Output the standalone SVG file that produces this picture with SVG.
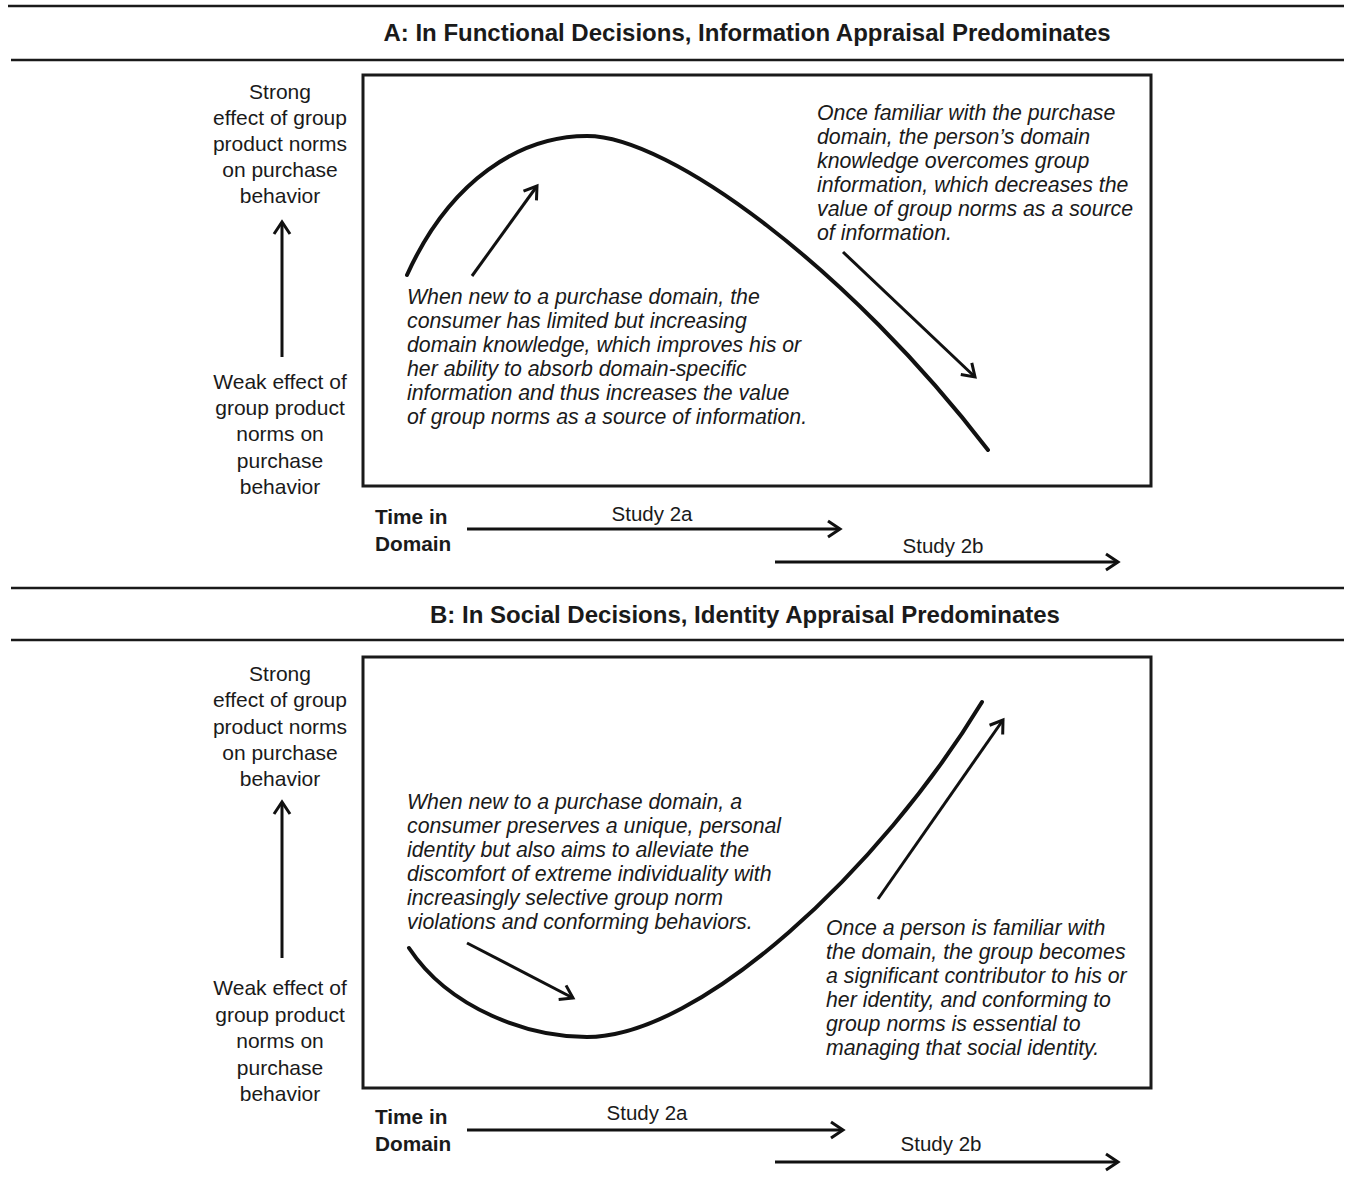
<svg xmlns="http://www.w3.org/2000/svg" width="1347" height="1191" viewBox="0 0 1347 1191">
<style>
text{font-family:"Liberation Sans",Arial,sans-serif;fill:#1a1a1a}
.title{font-size:24px;font-weight:bold;text-anchor:middle}
.ax{font-size:21px;text-anchor:middle}
.note{font-size:21.3px;font-style:italic}
.tid{font-size:20.8px;font-weight:bold}
.st{font-size:20.5px;text-anchor:middle}
.rule{stroke:#1a1a1a;stroke-width:2.5;fill:none}
.box{stroke:#1a1a1a;stroke-width:3;fill:none}
.curve{stroke:#111;stroke-width:4;fill:none;stroke-linecap:round}
.arr{stroke:#111;stroke-width:3;fill:none;marker-end:url(#ah)}
</style>
<defs>
<marker id="ah" markerUnits="userSpaceOnUse" viewBox="0 0 20 20" refX="16" refY="10" markerWidth="20" markerHeight="20" orient="auto">
<path d="M4,2 L16,10 L4,18" fill="none" stroke="#111" stroke-width="3"/>
</marker>
</defs>
<g id="rules">
<line class="rule" x1="8" y1="6" x2="1344" y2="6" stroke-width="3.5"/>
<line class="rule" x1="11" y1="60" x2="1344" y2="60"/>
<line class="rule" x1="11" y1="588" x2="1344" y2="588"/>
<line class="rule" x1="11" y1="640" x2="1344" y2="640"/>
</g>
<g id="panelA">
<text class="title" x="747" y="41">A: In Functional Decisions, Information Appraisal Predominates</text>
<rect id="boxA" class="box" x="363" y="75" width="788" height="411"/>
<g id="yaxisA">
<text class="ax" x="280" y="99">Strong</text>
<text class="ax" x="280" y="125">effect of group</text>
<text class="ax" x="280" y="151">product norms</text>
<text class="ax" x="280" y="177">on purchase</text>
<text class="ax" x="280" y="203">behavior</text>
<text class="ax" x="280" y="389">Weak effect of</text>
<text class="ax" x="280" y="415">group product</text>
<text class="ax" x="280" y="441">norms on</text>
<text class="ax" x="280" y="468">purchase</text>
<text class="ax" x="280" y="494">behavior</text>
</g>
<g id="noteA1">
<text class="note" x="407" y="304">When new to a purchase domain, the</text>
<text class="note" x="407" y="328">consumer has limited but increasing</text>
<text class="note" x="407" y="352">domain knowledge, which improves his or</text>
<text class="note" x="407" y="376">her ability to absorb domain-specific</text>
<text class="note" x="407" y="400">information and thus increases the value</text>
<text class="note" x="407" y="424">of group norms as a source of information.</text>
</g>
<g id="noteA2">
<text class="note" x="817" y="120">Once familiar with the purchase</text>
<text class="note" x="817" y="144">domain, the person’s domain</text>
<text class="note" x="817" y="168">knowledge overcomes group</text>
<text class="note" x="817" y="192">information, which decreases the</text>
<text class="note" x="817" y="216">value of group norms as a source</text>
<text class="note" x="817" y="240">of information.</text>
</g>
<g id="timeA">
<text class="tid" x="375" y="524">Time in</text>
<text class="tid" x="375" y="551">Domain</text>
<text class="st" x="652" y="521">Study 2a</text>
<text class="st" x="943" y="553">Study 2b</text>
</g>
</g>
<g id="panelB">
<text class="title" x="745" y="623">B: In Social Decisions, Identity Appraisal Predominates</text>
<rect id="boxB" class="box" x="363" y="657" width="788" height="431"/>
<g id="yaxisB">
<text class="ax" x="280" y="681">Strong</text>
<text class="ax" x="280" y="707">effect of group</text>
<text class="ax" x="280" y="734">product norms</text>
<text class="ax" x="280" y="760">on purchase</text>
<text class="ax" x="280" y="786">behavior</text>
<text class="ax" x="280" y="995">Weak effect of</text>
<text class="ax" x="280" y="1022">group product</text>
<text class="ax" x="280" y="1048">norms on</text>
<text class="ax" x="280" y="1075">purchase</text>
<text class="ax" x="280" y="1101">behavior</text>
</g>
<g id="noteB1">
<text class="note" x="407" y="809">When new to a purchase domain, a</text>
<text class="note" x="407" y="833">consumer preserves a unique, personal</text>
<text class="note" x="407" y="857">identity but also aims to alleviate the</text>
<text class="note" x="407" y="881">discomfort of extreme individuality with</text>
<text class="note" x="407" y="905">increasingly selective group norm</text>
<text class="note" x="407" y="929">violations and conforming behaviors.</text>
</g>
<g id="noteB2">
<text class="note" x="826" y="935">Once a person is familiar with</text>
<text class="note" x="826" y="959">the domain, the group becomes</text>
<text class="note" x="826" y="983">a significant contributor to his or</text>
<text class="note" x="826" y="1007">her identity, and conforming to</text>
<text class="note" x="826" y="1031">group norms is essential to</text>
<text class="note" x="826" y="1055">managing that social identity.</text>
</g>
<g id="timeB">
<text class="tid" x="375" y="1124">Time in</text>
<text class="tid" x="375" y="1151">Domain</text>
<text class="st" x="647" y="1120">Study 2a</text>
<text class="st" x="941" y="1151">Study 2b</text>
</g>
</g>
<g id="connectors">
<path id="curveA" class="curve" d="M407,275 C450,180 520,136 587,136 C670,136 850,270 988,450"/>
<path id="curveB" class="curve" d="M409,948 C450,1010 530,1037 587,1037 C700,1037 880,870 982,702"/>
<line class="arr" x1="472" y1="276" x2="537" y2="186"/>
<line class="arr" x1="843" y1="252" x2="975" y2="377"/>
<line class="arr" x1="467" y1="943" x2="573" y2="998"/>
<line class="arr" x1="878" y1="899" x2="1003" y2="720"/>
<line class="arr" x1="282" y1="357" x2="282" y2="222"/>
<line class="arr" x1="282" y1="958" x2="282" y2="802"/>
<line class="arr" x1="467" y1="529" x2="840" y2="529"/>
<line class="arr" x1="775" y1="562" x2="1118" y2="562"/>
<line class="arr" x1="467" y1="1130" x2="843" y2="1130"/>
<line class="arr" x1="775" y1="1162" x2="1118" y2="1162"/>
</g>
</svg>
